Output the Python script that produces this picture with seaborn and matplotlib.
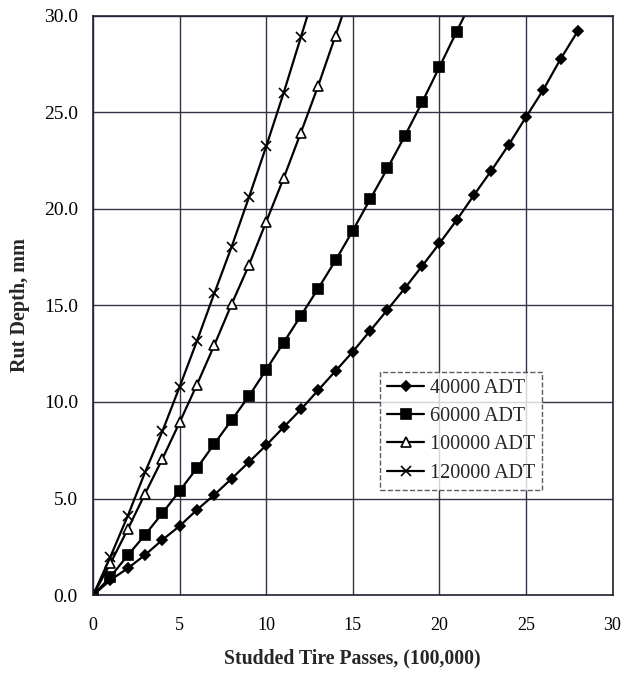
import numpy as np
import pandas as pd
import matplotlib
matplotlib.use("Agg")
import matplotlib.pyplot as plt
import seaborn as sns

# passes (100,000) and rut depth (mm)
x_40k = list(range(0, 29))
y_40k = [0.0, 0.78, 1.39, 2.08, 2.86, 3.58, 4.42, 5.19, 6.03, 6.89, 7.76, 8.69, 9.61,
         10.61, 11.6, 12.6, 13.68, 14.77, 15.88, 17.03, 18.2, 19.41, 20.71, 21.97,
         23.3, 24.74, 26.15, 27.75, 29.2]

x_60k = list(range(0, 23))
y_60k = [0.0, 0.95, 2.06, 3.12, 4.24, 5.4, 6.58, 7.83, 9.06, 10.3, 11.67, 13.07, 14.46,
         15.87, 17.32, 18.87, 20.49, 22.09, 23.76, 25.5, 27.33, 29.17, 31.0]

x_100k = list(range(0, 16))
y_100k = [0.0, 1.65, 3.41, 5.25, 7.05, 8.95, 10.9, 12.94, 15.06, 17.08, 19.33, 21.57,
          23.94, 26.36, 28.96, 31.6]

x_120k = list(range(0, 14))
y_120k = [0.0, 1.99, 4.1, 6.36, 8.48, 10.79, 13.16, 15.62, 18.03, 20.59, 23.23, 25.98,
          28.88, 31.8]

labels = ["40000 ADT", "60000 ADT", "100000 ADT", "120000 ADT"]

sns.set_style("white")
plt.rcParams['font.family'] = ['Liberation Serif', 'DejaVu Serif']

fig = plt.figure(figsize=(6.25, 6.74), dpi=100)
ax = fig.add_axes([0.149, 0.117, 0.831, 0.860])

series = [(x_40k, y_40k, "D", 5.5, "black"),
          (x_60k, y_60k, "s", 7, "black"),
          (x_100k, y_100k, "^", 6.5, "white"),
          (x_120k, y_120k, "x", 7, "black")]

for (xs, ys, mk, ms, fc), lab in zip(series, labels):
    df = pd.DataFrame({"x": xs, "y": ys})
    sns.lineplot(data=df, x="x", y="y", ax=ax, color="black", linewidth=1.6,
                 marker=mk, markersize=ms, markerfacecolor=fc,
                 markeredgecolor="black", markeredgewidth=1.2, label=lab)

ax.set_xlim(0, 30)
ax.set_ylim(0, 30)
ax.set_xticks(np.arange(0, 31, 5))
ax.set_yticks(np.arange(0, 31, 5))
ax.set_yticklabels([f"{v:.1f}" for v in np.arange(0, 31, 5)])
ax.grid(True, color="#333344", linewidth=1.0)
for s in ax.spines.values():
    s.set_color("#222233")
    s.set_linewidth(1.2)
ax.tick_params(direction="inout", length=10, width=1, colors="black")
ax.tick_params(axis="x", labelsize=13, pad=11)
ax.tick_params(axis="y", labelsize=14, pad=6)

ax.set_xlabel("Studded Tire Passes, (100,000)", fontsize=14.2, fontweight="bold", labelpad=10)
ax.set_ylabel("Rut Depth, mm", fontsize=14.5, fontweight="bold", labelpad=10)

leg = ax.legend(loc="upper left", bbox_to_anchor=(0.553, 0.385), fontsize=14.5,
                frameon=True, fancybox=False, edgecolor="#333344",
                handlelength=1.8, handletextpad=0.3, labelspacing=0.45,
                borderpad=0.35, borderaxespad=0)
leg.get_frame().set_linewidth(1.0)
leg.get_frame().set_linestyle("--")

fig.savefig("out.png", dpi=100, facecolor="white")
